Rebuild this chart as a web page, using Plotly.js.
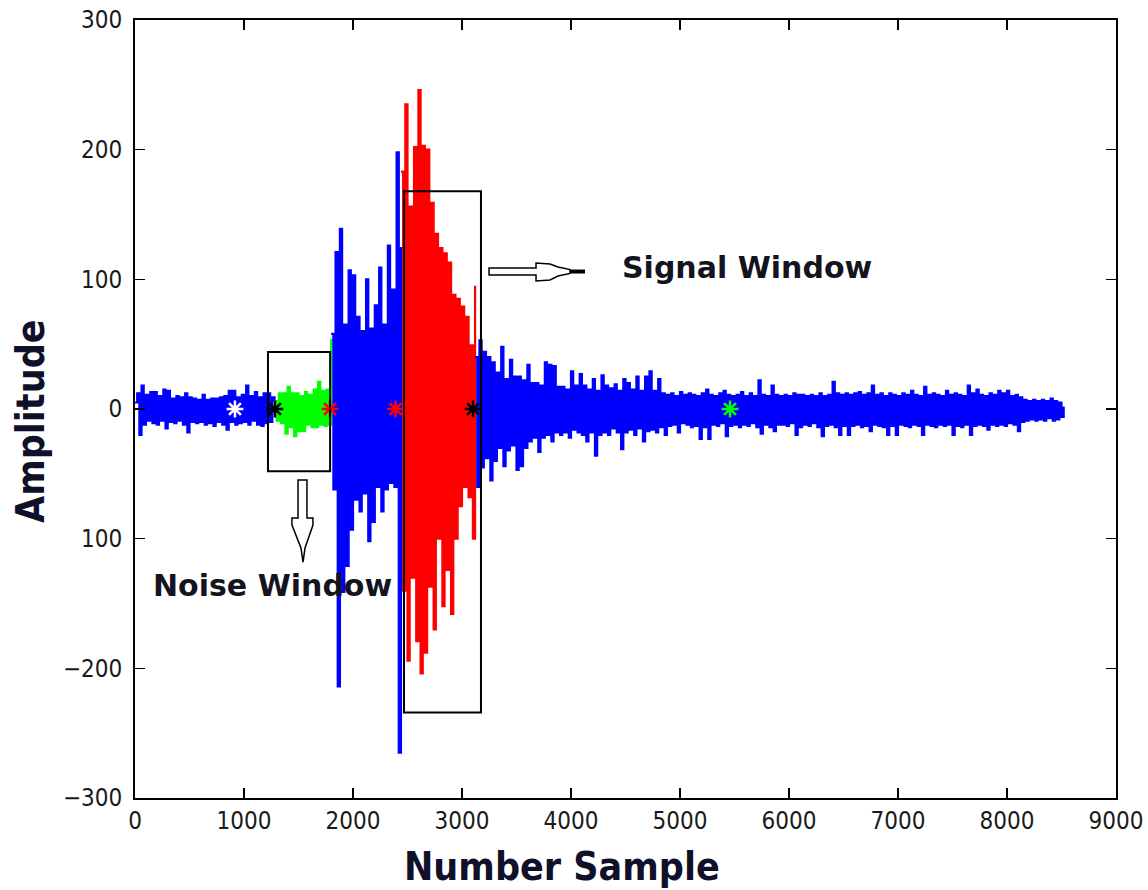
<!DOCTYPE html>
<html>
<head>
<meta charset="utf-8">
<script src="https://cdn.plot.ly/plotly-3.0.1.min.js"></script>
<style>
  html, body { margin: 0; padding: 0; background: #ffffff; }
  #chart { width: 1148px; height: 890px; }
</style>
</head>
<body>
<div id="chart"></div>
<script>
// ---------------- data (sample step between successive values) ----------------
const STEP = 20;

// pre-event part of the trace (blue), samples 0..1280
const blue1Start = 0;
const blue1 = [5, 12, -20, 18, -12, 11, -9, 13, -11, 13, -12, 10, -9, 15, -15, 14, -10, 8, -11, 10,
  -9, 9, -12, 12, -18, 9, -10, 8, -11, 7, -10, 11, -12, 7, -11, 8, -13, 8, -10, 9,
  -12, 10, -16, 14, -10, 14, -12, 9, -11, 11, -10, 18, -12, 10, -9, 13, -12, 9, -13, 12,
  -11, 12, -10, 9, 6];

// noise window (green), samples 1280..1800
const greenStart = 1280;
const green = [6, -9, 12, -11, 12, -19, 17, -14, 12, -21, 12, -17, 10, -17, 13, -12, 11, -14, 15, -14,
  21, -12, 14, -13, 15, -12, 54];

// P-wave part (blue), samples 1800..2440
const blue2Start = 1800;
const blue2 = [58, -62, 121, -214, 139, -141, 65, -121, 107, -93, 103, -70, 71, -79, 60, -65, 100, -102, 62, -87,
  80, -60, 109, -79, 65, -62, 126, -57, 92, -60, 198, -265, 125];

// signal window (red), samples 2440..3120
const redStart = 2440;
const red = [183, -140, 235, -194, 156, -130, 202, -179, 246, -204, 203, -188, 200, -137, 159, -170, 135, -100, 124, -152,
  120, -124, 113, -158, 88, -100, 85, -75, 79, -60, 71, -68, 49, -100, 95];

// coda (blue), samples 3120..8520
const blue3Start = 3120;
const blue3 = [
  40, -60, 53, -45, 44, -38, 40, -55, 36, -40,
  28, -30, 48, -44, 23, -32, 38, -28, 25, -47,
  25, -44, 22, -30, 34, -25, 20, -22, 20, -33,
  18, -22, 36, -20, 34, -25, 33, -18, 17, -20,
  17, -18, 15, -22, 29, -16, 18, -18, 27, -20,
  18, -25, 15, -18, 23, -36, 14, -20, 26, -18,
  18, -20, 16, -15, 19, -18, 14, -31, 23, -18,
  20, -16, 15, -20, 25, -15, 14, -25, 25, -17,
  29, -16, 14, -18, 23, -14, 12, -20, 11, -13,
  12, -12, 10, -18, 13, -11, 11, -12, 12, -14,
  11, -13, 10, -23, 12, -14, 15, -23, 11, -12,
  10, -13, 12, -11, 14, -21, 11, -13, 10, -12,
  11, -14, 13, -12, 10, -13, 12, -11, 10, -14,
  22, -19, 11, -12, 10, -14, 18, -17, 11, -12,
  10, -12, 11, -13, 10, -11, 12, -20, 11, -14,
  11, -12, 10, -13, 11, -11, 10, -14, 12, -21,
  10, -13, 11, -12, 21, -14, 12, -20, 11, -13,
  12, -20, 11, -13, 12, -12, 13, -14, 11, -13,
  12, -17, 18, -12, 11, -13, 12, -14, 10, -20,
  12, -13, 11, -20, 10, -12, 12, -13, 11, -14,
  14, -12, 11, -13, 10, -20, 17, -12, 11, -13,
  12, -14, 11, -12, 10, -13, 14, -12, 11, -20,
  12, -13, 11, -14, 10, -12, 18, -20, 12, -13,
  15, -12, 11, -13, 10, -16, 12, -12, 11, -13,
  14, -12, 12, -13, 14, -11, 10, -12, 11, -17,
  9, -10, 7, -9, 6, -8, 7, -9, 6, -8,
  7, -9, 6, -7, 8, -9, 6, -8, 5, -6, 2];

// picked phase markers (asterisks on the zero line)
const pickSample = [917, 1284, 1789, 2390, 3101, 5459];
const pickAmp    = [0, 0, 0, 0, 0, 0];
const pickColor  = ['#ffffff', '#000000', '#ff0000', '#ff0000', '#000000', '#00ff00'];

// windows: [startSample, endSample, lowAmp, highAmp]
const noiseWindow  = [1220, 1790, -48, 44];
const signalWindow = [2468, 3174, -234, 168];

// axis ticks
const xTickVals = [0, 1000, 2000, 3000, 4000, 5000, 6000, 7000, 8000, 9000];
const xTickText = ['0', '1000', '2000', '3000', '4000', '5000', '6000', '7000', '8000', '9000'];
const yTickVals = [-300, -200, -100, 0, 100, 200, 300];
const yTickText = ['\u2212300', '\u2212200', '100', '0', '100', '200', '300'];

// ---------------- build ----------------
function seg(start, vals, color) {
  return {
    type: 'scatter', mode: 'lines',
    x: vals.map((v, i) => start + i * STEP),
    y: vals,
    line: { color: color, width: 2.2, shape: 'hv' },
    hoverinfo: 'skip'
  };
}

const traces = [
  seg(blue1Start, blue1, '#0000ff'),
  seg(greenStart, green, '#00ff00'),
  seg(blue2Start, blue2, '#0000ff'),
  seg(redStart, red, '#ff0000'),
  seg(blue3Start, blue3, '#0000ff'),
  {
    type: 'scatter', mode: 'markers',
    x: pickSample, y: pickAmp,
    marker: { symbol: 'asterisk-open', size: 14, color: pickColor,
              line: { color: pickColor, width: 2.5 } },
    hoverinfo: 'skip'
  }
];

// plot area in pixels (for the hand-drawn arrows and titles)
const PL = 135, PT = 20, PW = 981, PH = 778;
function px2x(px) { return (px - PL) / PW; }
function py2y(py) { return (PT + PH - py) / PH; }
function P(px, py) { return px2x(px).toFixed(4) + ',' + py2y(py).toFixed(4); }
function poly(pts) { return 'M' + pts.map(p => P(p[0], p[1])).join(' L') + ' Z'; }

const boxLine = { color: '#000000', width: 2 };
const shapes = [
  { type: 'rect', xref: 'x', yref: 'y', x0: noiseWindow[0], x1: noiseWindow[1], y0: noiseWindow[2], y1: noiseWindow[3], line: boxLine },
  { type: 'rect', xref: 'x', yref: 'y', x0: signalWindow[0], x1: signalWindow[1], y0: signalWindow[2], y1: signalWindow[3], line: boxLine },
  // hollow arrow pointing right to "Signal Window"
  { type: 'path', xref: 'paper', yref: 'paper',
    path: poly([[489,268],[536,268],[536,263],[550,264],[558,267],[570,269.5],[570,273.5],[558,276],[550,280],[536,281],[536,275],[489,275]]),
    line: { color: '#000000', width: 1.5 }, fillcolor: '#ffffff' },
  { type: 'path', xref: 'paper', yref: 'paper',
    path: 'M' + P(570, 271.5) + ' L' + P(585, 271.5),
    line: { color: '#000000', width: 4 } },
  // hollow arrow pointing down to "Noise Window"
  { type: 'path', xref: 'paper', yref: 'paper',
    path: poly([[298,480],[307,480],[307,518],[313,518],[313,525],[305,548],[303,562],[301,548],[292,525],[292,518],[298,518]]),
    line: { color: '#000000', width: 1.5 }, fillcolor: '#ffffff' }
];

const annFont = { family: 'DejaVu Sans', size: 30, color: '#14141e', weight: 'bold' };
const titleFont = { family: 'DejaVu Sans Condensed', size: 39, color: '#10102a', weight: 'bold' };
const annotations = [
  { xref: 'x', yref: 'y', x: 5614, y: 109, text: '<b>Signal Window</b>', showarrow: false,
    xanchor: 'center', yanchor: 'middle', font: annFont },
  { xref: 'x', yref: 'y', x: 1257, y: -136, text: '<b>Noise Window</b>', showarrow: false,
    xanchor: 'center', yanchor: 'middle', font: annFont },
  // axis titles
  { xref: 'paper', yref: 'paper', x: px2x(562), y: py2y(866), text: '<b>Number Sample</b>', showarrow: false,
    xanchor: 'center', yanchor: 'middle', font: titleFont },
  { xref: 'paper', yref: 'paper', x: px2x(31), y: py2y(421), text: '<b>Amplitude</b>', showarrow: false,
    textangle: -90, xanchor: 'center', yanchor: 'middle', font: titleFont }
];

const tickFont = { family: 'DejaVu Sans Condensed', size: 24, color: '#1a1a1a' };

const axisCommon = {
  showgrid: false, zeroline: false, showline: true, linecolor: '#000000', linewidth: 2,
  mirror: 'ticks', ticks: 'inside', ticklen: 10, tickwidth: 1.5, tickcolor: '#000000',
  tickfont: tickFont, tickmode: 'array'
};

const layout = {
  width: 1148, height: 890,
  margin: { l: PL, r: 1148 - PL - PW, t: PT, b: 890 - PT - PH },
  paper_bgcolor: '#ffffff', plot_bgcolor: '#ffffff',
  showlegend: false,
  xaxis: Object.assign({}, axisCommon, {
    range: [0, 9000], tickvals: xTickVals, ticktext: xTickText,
    ticklabelstandoff: 0
  }),
  yaxis: Object.assign({}, axisCommon, {
    range: [-300, 300], tickvals: yTickVals, ticktext: yTickText,
    ticklabelstandoff: 6
  }),
  shapes: shapes,
  annotations: annotations
};

Plotly.newPlot('chart', traces, layout, { staticPlot: true, displayModeBar: false });
</script>
</body>
</html>
